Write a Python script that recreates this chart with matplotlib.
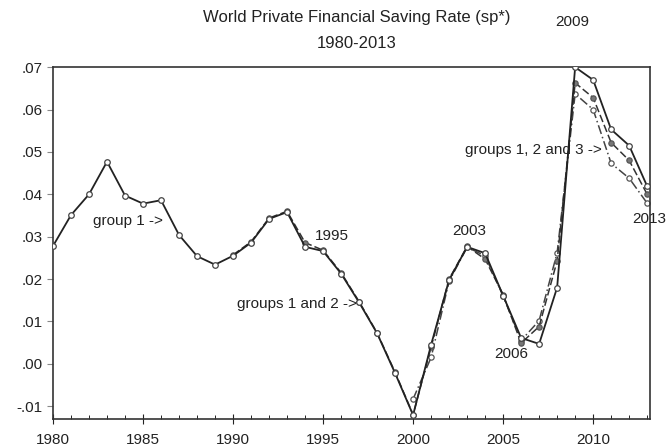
import matplotlib
matplotlib.use("Agg")
import matplotlib.pyplot as plt

plt.rcParams['font.family'] = ['Liberation Sans', 'DejaVu Sans']

# group 1: 1980-2013
years1 = list(range(1980, 2014))
group1 = [0.0278, 0.0351, 0.0400, 0.0477, 0.0397, 0.0378, 0.0386, 0.0304, 0.0254, 0.0234,
          0.0255, 0.0286, 0.0342, 0.0358, 0.0276, 0.0266, 0.0213, 0.0145, 0.0072, -0.0022,
          -0.0121, 0.0045, 0.0198, 0.0276, 0.0261, 0.0161, 0.0061, 0.0047, 0.0180, 0.0700,
          0.0670, 0.0553, 0.0515, 0.0419]

# group 2: 1990-2013
years2 = list(range(1990, 2014))
group2 = [0.0257, 0.0288, 0.0344, 0.0360, 0.0286, 0.0268, 0.0215, 0.0147, 0.0073, -0.0020,
          -0.0120, 0.0040, 0.0200, 0.0277, 0.0247, 0.0163, 0.0049, 0.0088, 0.0243, 0.0663,
          0.0628, 0.0522, 0.0480, 0.0400]

# group 3: 2000-2013
years3 = list(range(2000, 2014))
group3 = [-0.0083, 0.0015, 0.0195, 0.0275, 0.0255, 0.0160, 0.0055, 0.0102, 0.0262, 0.0637,
          0.0600, 0.0473, 0.0438, 0.0379]

yticks = [-0.01, 0.0, 0.01, 0.02, 0.03, 0.04, 0.05, 0.06, 0.07]
ytick_labels = ["-.01", ".00", ".01", ".02", ".03", ".04", ".05", ".06", ".07"]
xticks = [1980, 1985, 1990, 1995, 2000, 2005, 2010]

fig = plt.figure(figsize=(6.71, 4.48), dpi=100)
ax = fig.add_axes([0.079, 0.064, 0.8895, 0.787])

ax.plot(years3, group3, color="#444444", lw=1.1, ls=(0, (6, 2, 1, 2)), marker="o", ms=3.8,
        mfc="white", mec="#555555", mew=0.9, zorder=2)
ax.plot(years2, group2, color="#333333", lw=1.1, ls=(0, (5, 2)), marker="o", ms=3.8,
        mfc="#777777", mec="#555555", mew=0.9, zorder=3)
ax.plot(years1, group1, color="#222222", lw=1.3, ls="-", marker="o", ms=4,
        mfc="white", mec="#444444", mew=0.9, zorder=4)

ax.set_xlim(1980, 2013.15)
ax.set_ylim(-0.0131, 0.0701)
ax.set_xticks(xticks)
ax.set_xticks(range(1980, 2014), minor=True)
ax.set_yticks(yticks)
ax.set_yticklabels(ytick_labels)
ax.tick_params(axis="both", labelsize=11, colors="#222222")
ax.tick_params(axis="x", which="major", direction="inout", length=7, pad=6)
ax.tick_params(axis="x", which="minor", direction="in", length=3)
ax.tick_params(axis="y", direction="out", length=4, color="#888888")
for s in ax.spines.values():
    s.set_color("#333333")
    s.set_linewidth(1.2)

fs = 11
ax.text(1982.2, 0.0337, "group 1 ->", fontsize=fs, ha="left", va="center", color="#222222")
ax.text(1995.5, 0.0302, "1995", fontsize=fs, ha="center", va="center", color="#222222")
ax.text(1996.9, 0.0142, "groups 1 and 2 ->", fontsize=fs, ha="right", va="center", color="#222222")
ax.text(2003.1, 0.0313, "2003", fontsize=fs, ha="center", va="center", color="#222222")
ax.text(2005.45, 0.0022, "2006", fontsize=fs, ha="center", va="center", color="#222222")
ax.text(2008.85, 0.0806, "2009", fontsize=fs, ha="center", va="center", color="#222222", clip_on=False)
ax.text(2010.45, 0.0504, "groups 1, 2 and 3 ->", fontsize=fs, ha="right", va="center", color="#222222")
ax.text(2013.1, 0.0342, "2013", fontsize=fs, ha="center", va="center", color="#222222", clip_on=False)

fig.text(0.532, 0.962, "World Private Financial Saving Rate (sp*)", fontsize=12, ha="center", va="center", color="#222222")
fig.text(0.532, 0.904, "1980-2013", fontsize=12, ha="center", va="center", color="#222222")

fig.savefig("out.png", dpi=100)
